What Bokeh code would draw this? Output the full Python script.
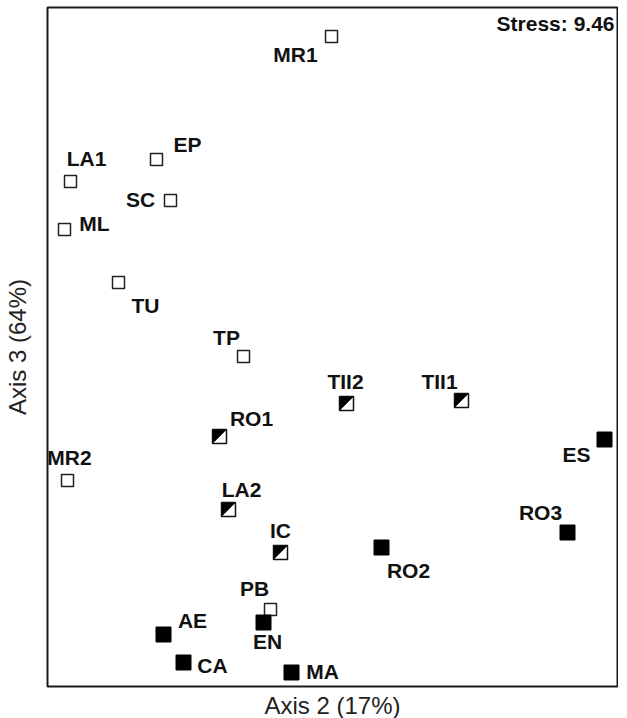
from bokeh.plotting import figure
from bokeh.models import Range1d, ColumnDataSource, FixedTicker
from bokeh.embed import file_html
from bokeh.resources import INLINE
from bokeh.core.properties import value

# ---- data (NMDS scores) ----
sites = ["MR1", "EP", "LA1", "SC", "ML", "TU", "TP", "TII2", "TII1", "RO1", "ES",
         "MR2", "LA2", "RO3", "RO2", "IC", "PB", "EN", "AE", "CA", "MA"]
axis2 = [0.008, -0.692, -1.036, -0.636, -1.060, -0.844, -0.344, 0.068, 0.528, -0.440, 1.100,
         -1.048, -0.404, 0.952, 0.208, -0.196, -0.236, -0.264, -0.664, -0.584, -0.152]
axis3 = [1.648, 1.156, 1.068, 0.992, 0.876, 0.664, 0.368, 0.180, 0.192, 0.048, 0.036,
         -0.128, -0.244, -0.336, -0.396, -0.416, -0.644, -0.696, -0.744, -0.856, -0.896]
groups = ["open", "open", "open", "open", "open", "open", "open", "half", "half", "half", "filled",
          "open", "half", "filled", "filled", "half", "open", "filled", "filled", "filled", "filled"]
stress = 9.46
x_label = "Axis 2 (17%)"
y_label = "Axis 3 (64%)"

# ---- layout / style (label offsets in screen pixels, y down) ----
label_dx = [-36, 31, 16, -30, 30, 27, -17, -1, -22, 32, -28,
            2, 13, -27, 27, 0, -16, 4, 29, 29, 31]
label_dy = [18, -15, -23, -1, -6, 23, -19, -22, -19, -18, 15,
            -23, -20, -20, 23, -22, -21, 19, -14, 3, -1]

X0, X1 = -1.128, 1.152
Y0, Y1 = -0.952, 1.764
FW, FH = 570, 679

p = figure(frame_width=FW, frame_height=FH,
           x_range=Range1d(X0, X1), y_range=Range1d(Y0, Y1),
           output_backend="svg", toolbar_location=None,
           min_border_left=46, min_border_right=1, min_border_top=7, min_border_bottom=30)
p.grid.visible = False
p.background_fill_color = "white"
p.border_fill_color = "white"
p.outline_line_color = "#1a1a1a"
p.outline_line_width = 2

for ax in (p.xaxis, p.yaxis):
    ax.ticker = FixedTicker(ticks=[])
    ax.axis_line_color = None
    ax.major_tick_line_color = None
    ax.minor_tick_line_color = None
    ax.major_label_text_font_size = "0px"
    ax.axis_label_text_font = "Liberation Sans"
    ax.axis_label_text_font_style = "normal"
    ax.axis_label_text_font_size = "24px"
    ax.axis_label_text_color = "#222222"
p.xaxis.axis_label = x_label
p.yaxis.axis_label = y_label
p.xaxis.axis_label_standoff = 5
p.yaxis.axis_label_standoff = 17

def sel(kind):
    idx = [i for i, g in enumerate(groups) if g == kind]
    return ColumnDataSource(dict(x=[axis2[i] for i in idx], y=[axis3[i] for i in idx]))

# open squares
p.scatter("x", "y", source=sel("open"), marker="square", size=12,
          fill_color="white", line_color="#222222", line_width=1.5)
# filled squares
p.scatter("x", "y", source=sel("filled"), marker="square", size=15,
          fill_color="black", line_color="black", line_width=1)
# half-filled squares: white square, black upper-left triangle, outline
half = sel("half")
hx = 7 * (X1 - X0) / FW
hy = 7 * (Y1 - Y0) / FH
tri_xs = [[x - hx, x + hx, x - hx] for x in half.data["x"]]
tri_ys = [[y + hy, y + hy, y - hy] for y in half.data["y"]]
p.scatter("x", "y", source=half, marker="square", size=14,
          fill_color="white", line_color=None)
p.patches(tri_xs, tri_ys, fill_color="black", line_color="black", line_width=0.5)
p.scatter("x", "y", source=half, marker="square", size=14,
          fill_color=None, line_color="#111111", line_width=1.5)

# site labels
lab = ColumnDataSource(dict(x=axis2, y=axis3, t=sites, dx=label_dx, dy=label_dy))
p.text("x", "y", text="t", source=lab, x_offset="dx", y_offset="dy",
       text_font=value("Liberation Sans"), text_font_style="bold",
       text_font_size="21px", text_align="center", text_baseline="middle",
       text_color="#111111")

# stress annotation
st = ColumnDataSource(dict(x=[X1], y=[Y1], t=["Stress: %.2f" % stress]))
p.text("x", "y", text="t", source=st, x_offset=-3, y_offset=16,
       text_font=value("Liberation Sans"), text_font_style="bold",
       text_font_size="21px", text_align="right", text_baseline="middle",
       text_color="#111111")

open("out.html", "w").write(file_html(p, INLINE))
